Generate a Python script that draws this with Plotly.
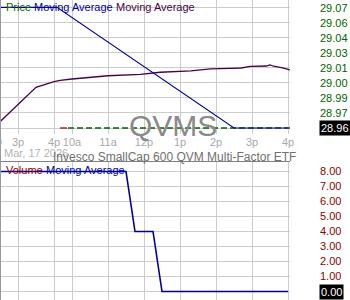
import plotly.graph_objects as go

# ---- data (x in trading-hours from previous day's 3p; 10a today = 1.5) ----
tick_pos = [0, 1, 1.5, 2.5, 3.5, 4.5, 5.5, 6.5, 7.5]
tick_labels = ["3p", "4p", "10a", "11a", "12p", "1p", "2p", "3p", "4p"]

ma_fast_t = [-0.5, 1.083, 6.0, 7.5]
ma_fast_v = [29.0705, 29.0705, 28.96, 28.96]

ma_slow_t = [-0.5, 0.5, 1.0, 1.17, 1.5, 2.0, 2.5, 3.4, 3.95, 4.8, 5.35, 5.9, 6.2,
             6.45, 6.9, 7.0, 7.1, 7.35, 7.55]
ma_slow_v = [28.9658, 28.9973, 29.0024, 29.0036, 29.0049, 29.0065, 29.0079, 29.0092,
             29.0111, 29.0123, 29.0141, 29.0147, 29.0150, 29.0165, 29.0168, 29.0178,
             29.0166, 29.0150, 29.0132]

price_t = [1.39, 7.7]
price_v = [28.96, 28.96]
prev_t = [1.17, 1.36]
prev_v = [28.96, 28.96]

vol_ma_t = [-0.5, 3.0, 3.25, 3.75, 4.0, 7.5]
vol_ma_v = [8, 8, 4, 4, 0, 0]

price_ticks = [28.96, 28.97375, 28.9875, 29.00125, 29.015, 29.02875, 29.0425, 29.05625, 29.07]
price_tick_text = ["", "28.97", "28.99", "29.00", "29.01", "29.03", "29.04", "29.06", "29.07"]
vol_ticks = [0, 1, 2, 3, 4, 5, 6, 7, 8]
vol_tick_text = ["", "1.00", "2.00", "3.00", "4.00", "5.00", "6.00", "7.00", "8.00"]
last_price = "28.96"
last_vol = "0.00"

FONT = "Liberation Sans"
GRID = "#cccccc"
W, H = 350, 300
PW = 290

fig = go.Figure()
fig.add_trace(go.Scatter(x=ma_slow_t, y=ma_slow_v, mode="lines",
                         line=dict(color="#4b0045", width=1.3), xaxis="x", yaxis="y"))
fig.add_trace(go.Scatter(x=price_t, y=price_v, mode="lines",
                         line=dict(color="#006400", width=1.3, dash="6px,3px"), xaxis="x", yaxis="y"))
fig.add_trace(go.Scatter(x=prev_t, y=prev_v, mode="lines",
                         line=dict(color="#aa0000", width=1.3), xaxis="x", yaxis="y"))
fig.add_trace(go.Scatter(x=ma_fast_t, y=ma_fast_v, mode="lines",
                         line=dict(color="#000099", width=1.1), xaxis="x", yaxis="y"))
fig.add_trace(go.Scatter(x=vol_ma_t, y=vol_ma_v, mode="lines",
                         line=dict(color="#000099", width=1.6), xaxis="x2", yaxis="y2"))

xrange = [-0.5, -0.5 + PW / 36.0]
top_dom = [1 - 134 / H, 1]
bot_dom = [0, 1 - 162 / H]

fig.update_layout(
    width=W, height=H,
    margin=dict(l=0, r=W - PW, t=0, b=0),
    paper_bgcolor="white", plot_bgcolor="white",
    showlegend=False,
    font=dict(family=FONT, size=11),
    xaxis=dict(domain=[0, 1], range=xrange, tickvals=tick_pos, ticktext=tick_labels,
               showgrid=True, gridcolor=GRID, gridwidth=1, zeroline=False, ticks="",
               tickfont=dict(color="#a8a8a8", size=11), anchor="y", showline=False),
    yaxis=dict(domain=top_dom, range=[28.9545, 29.0773], side="right", anchor="x",
               tickvals=price_ticks, ticktext=price_tick_text, showgrid=True, gridcolor=GRID,
               zeroline=False, ticks="", ticklabelstandoff=29,
               tickfont=dict(color="#006400", size=11)),
    xaxis2=dict(domain=[0, 1], range=xrange, tickvals=tick_pos, showticklabels=False,
                showgrid=True, gridcolor=GRID, zeroline=False, ticks="", anchor="y2",
                side="top", showline=True, linecolor="#808080", linewidth=1),
    yaxis2=dict(domain=bot_dom, range=[-0.567, 8.633], side="right", anchor="x2",
                tickvals=vol_ticks, ticktext=vol_tick_text, showgrid=True, gridcolor=GRID,
                zeroline=False, ticks="", ticklabelstandoff=29,
                tickfont=dict(color="#8b0000", size=11)),
)

fig.add_shape(type="line", xref="paper", yref="paper", x0=0, x1=0, y0=0, y1=1,
              line=dict(color="#999999", width=2))

ann = []
# last value boxes
ann.append(dict(xref="paper", yref="y", x=319 / PW, y=28.96, text=last_price, showarrow=False,
                xanchor="left", yanchor="middle", bgcolor="black", borderpad=1,
                font=dict(color="white", size=11, family=FONT)))
ann.append(dict(xref="paper", yref="y2", x=319 / PW, y=0, text=last_vol, showarrow=False,
                xanchor="left", yanchor="middle", bgcolor="black", borderpad=1,
                font=dict(color="white", size=11, family=FONT)))
# cut-off "2p" at left edge
ann.append(dict(xref="x", yref="paper", x=-0.4, y=1 - 141 / H, text="2p", showarrow=False,
                xanchor="right", yanchor="middle", font=dict(color="#a8a8a8", size=11)))
# watermark
ann.append(dict(xref="paper", yref="paper", x=173 / PW, y=1 - 126 / H, text="QVMS", showarrow=False,
                xanchor="center", yanchor="middle", font=dict(color="#8a8a8a", size=30, family=FONT)))
# legends
ann.append(dict(xref="paper", yref="paper", x=4 / PW, y=1 - 7 / H, text="Price", showarrow=False,
                xanchor="left", yanchor="middle", font=dict(color="#006400", size=11)))
ann.append(dict(xref="paper", yref="paper", x=32 / PW, y=1 - 7 / H, text="Moving Average", showarrow=False,
                xanchor="left", yanchor="middle", font=dict(color="#000099", size=11)))
ann.append(dict(xref="paper", yref="paper", x=114 / PW, y=1 - 7 / H, text="Moving Average", showarrow=False,
                xanchor="left", yanchor="middle", font=dict(color="#4b0045", size=11)))
ann.append(dict(xref="paper", yref="paper", x=4 / PW, y=1 - 170 / H, text="Volume", showarrow=False,
                xanchor="left", yanchor="middle", font=dict(color="#8b0000", size=11)))
ann.append(dict(xref="paper", yref="paper", x=44 / PW, y=1 - 170 / H, text="Moving Average", showarrow=False,
                xanchor="left", yanchor="middle", font=dict(color="#000099", size=11)))
# titles
ann.append(dict(xref="paper", yref="paper", x=2 / PW, y=1 - 153 / H, text="Mar, 17 2026", showarrow=False,
                xanchor="left", yanchor="middle", font=dict(color="#b4b4b4", size=11)))
ann.append(dict(xref="paper", yref="paper", x=174.5 / PW, y=1 - 157 / H,
                text="Invesco SmallCap 600 QVM Multi-Factor ETF", showarrow=False,
                xanchor="center", yanchor="middle", font=dict(color="#707070", size=12)))
fig.update_layout(annotations=ann)

fig.write_html("out.html")
